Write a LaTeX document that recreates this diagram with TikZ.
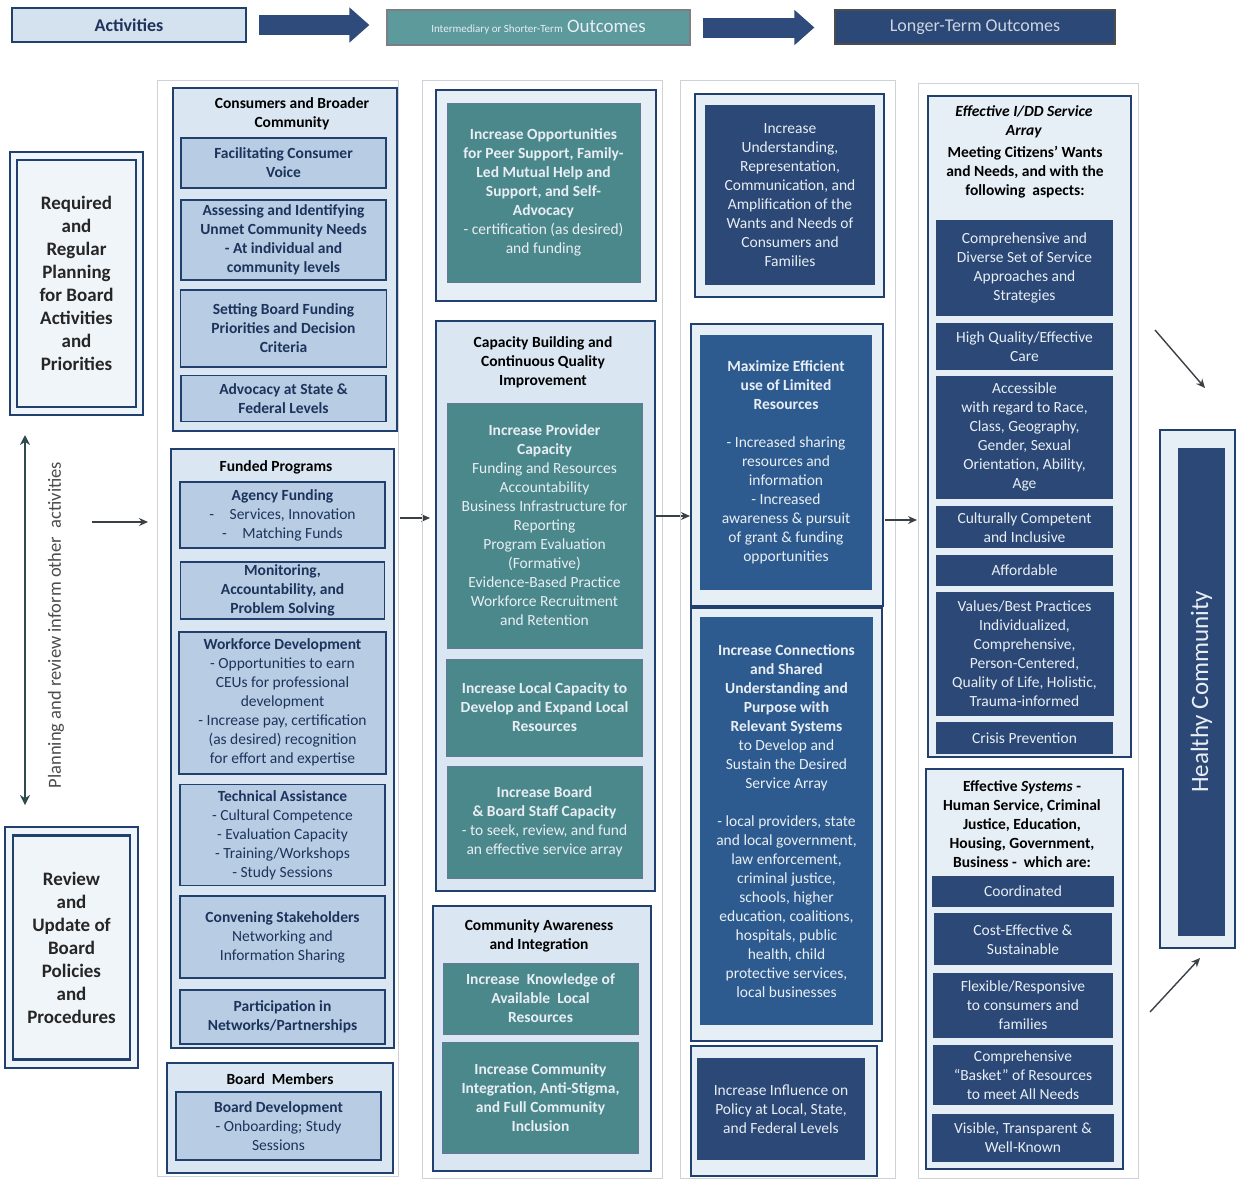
\documentclass[tikz,border=0pt]{standalone}
\usepackage{fontspec}
\setmainfont{Carlito}
\usetikzlibrary{arrows.meta, positioning}

\definecolor{navy}{HTML}{22406E}
\definecolor{hdrnavy}{HTML}{2E4B7B}
\definecolor{darkbox}{HTML}{2B4876}
\definecolor{midbox}{HTML}{2E5B8F}
\definecolor{tealfill}{HTML}{4B888B}
\definecolor{tealhdr}{HTML}{5C9A9C}
\definecolor{paleblue}{HTML}{DAE6F2}
\definecolor{steel}{HTML}{B8CDE3}
\definecolor{frost}{HTML}{E6EEF6}
\definecolor{framegray}{HTML}{CDD2D8}
\definecolor{arrowgray}{HTML}{3B4045}
\definecolor{slate}{HTML}{2F4A4D}
\definecolor{ink}{HTML}{1D335C}
\definecolor{soft}{HTML}{E8EEF4}

\tikzstyle{colframe} = [draw=framegray, line width=1.2pt, anchor=north west, inner sep=0pt]
\tikzstyle{group} = [draw=navy, fill=paleblue, line width=1.8pt, anchor=north west, inner sep=0pt]
\tikzstyle{holder} = [draw=navy, fill=frost, line width=1.8pt, anchor=north west, inner sep=0pt]
\tikzstyle{grptitle} = [align=center, text=black, font=\fontsize{15.5}{19}\selectfont\bfseries]
\tikzstyle{actbox} = [draw=navy, fill=steel, line width=1.8pt, text=ink, align=center, inner sep=2pt, font=\fontsize{15.5}{19}\selectfont]
\tikzstyle{actbold} = [actbox, font=\fontsize{15.5}{19}\selectfont\bfseries]
\tikzstyle{shortbox} = [draw=navy!70, fill=tealfill, line width=1pt, text=soft, align=center, inner sep=2pt, font=\fontsize{15.5}{19}\selectfont]
\tikzstyle{longbox} = [fill=darkbox, text=soft, align=center, inner sep=2pt, font=\fontsize{15.5}{19}\selectfont]
\tikzstyle{planbox} = [draw=navy, line width=2.4pt, fill=frost!60!white, text=black!85, align=center, inner sep=2pt, font=\fontsize{19}{23}\selectfont\bfseries]
\tikzstyle{flow} = [draw=arrowgray, line width=1.4pt, -{Stealth[length=9pt, width=8pt]}]
\tikzstyle{bigflow} = [draw=hdrnavy, line width=20pt, -{Triangle[length=20pt, width=34pt]}]

\begin{document}
\begin{tikzpicture}[x=1pt, y=-1pt, node distance=9pt]
\useasboundingbox[fill=white] (0,0) rectangle (1238,1179);

% header row
\node[draw=navy, line width=2pt, fill=steel!60!white, text=ink, font=\fontsize{18}{22}\selectfont\bfseries, minimum width=234, minimum height=34] (act) at (129,25) {Activities};
\node[draw=framegray!60!black, line width=1.2pt, fill=tealhdr, text=soft, font=\fontsize{19}{22}\selectfont, minimum width=303, minimum height=35] (short) at (538.5,27.5) {{\fontsize{11}{13}\selectfont Intermediary or Shorter-Term} Outcomes};
\node[draw=black!70, line width=1.2pt, fill=darkbox, text=soft!85!darkbox, font=\fontsize{18}{22}\selectfont, minimum width=280, minimum height=34] (long) at (975,27) {Longer-Term Outcomes};
\draw[bigflow] ([xshift=12pt]act.east) -- ([xshift=-17pt]act.east -| short.west);
\draw[bigflow] ([xshift=12pt]short.east) -- ([xshift=-20pt]short.east -| long.west);

% planning and review
\node[draw=navy, line width=1.4pt, fill=frost!60!white, minimum width=133, minimum height=263] (reqframe) at (76.5,283.5) {};
\node[planbox, minimum width=119, minimum height=247] (req) at (reqframe.center) {Required\\and\\Regular\\Planning\\for Board\\Activities\\and\\Priorities};
\node[draw=navy, line width=1.4pt, fill=frost!60!white, minimum width=133, minimum height=241] (revframe) at (71.5,947.5) {};
\node[planbox, minimum width=117, minimum height=224] (rev) at (revframe.center) {Review\\and\\Update of\\Board\\Policies\\and\\Procedures};
\coordinate (plantop) at (25,435);
\coordinate (planbot) at (25,805);
\draw[draw=slate, line width=2.6pt, {Stealth[length=10pt, width=10pt]}-{Stealth[length=10pt, width=10pt]}] (plantop) -- (planbot);
\node[rotate=90, text=black!70, font=\fontsize{18.5}{22}\selectfont] (inform) at (56,625) {Planning and review inform other\ \ activities};
\coordinate (feed) at (92,522);
\coordinate (feedin) at (148,522);
\draw[flow] (feed) -- (feedin);

% activities
\node[colframe, minimum width=241, minimum height=1096] (col1) at (157,80) {};
\node[group, minimum width=224, minimum height=343] (consgrp) at (172,87) {};
\node[grptitle] (cons) at (292,114) {Consumers and Broader\\Community};
\node[actbold, minimum width=205, minimum height=50] (voice) at (283.5,163) {Facilitating Consumer\\Voice};
\node[actbold, minimum width=205, minimum height=80, below=10pt of voice] (needs) {Assessing and Identifying\\Unmet Community Needs\\- At individual and\\community levels};
\node[actbold, minimum width=206, minimum height=77, below=8pt of needs] (prior) {Setting Board Funding\\Priorities and Decision\\Criteria};
\node[actbold, minimum width=205, minimum height=46, below=7pt of prior] (advoc) {Advocacy at State \&\\Federal Levels};

\node[group, minimum width=223, minimum height=599] (fundgrp) at (170,448) {};
\node[grptitle] (fund) at (276,467) {Funded Programs};
\node[actbox, minimum width=205, minimum height=66] (agency) at (282.5,515) {\textbf{Agency Funding}\\-\quad Services, Innovation\\-\quad Matching Funds};
\node[actbold, minimum width=204, minimum height=57, below=12pt of agency] (monit) {Monitoring,\\Accountability, and\\Problem Solving};
\node[actbox, minimum width=207, minimum height=142, below=11pt of monit] (work) {\textbf{Workforce Development}\\- Opportunities to earn\\CEUs for professional\\development\\- Increase pay, certification\\(as desired) recognition\\for effort and expertise};
\node[actbox, minimum width=205, minimum height=101, below=9pt of work] (tech) {\textbf{Technical Assistance}\\- Cultural Competence\\- Evaluation Capacity\\- Training/Workshops\\- Study Sessions};
\node[actbox, minimum width=205, minimum height=82, below=9pt of tech] (conv) {\textbf{Convening Stakeholders}\\Networking and\\Information Sharing};
\node[actbold, minimum width=205, minimum height=54, below=10pt of conv] (partn) {Participation in\\Networks/Partnerships};

\node[group, minimum width=226, minimum height=110] (boardgrp) at (166,1062) {};
\node[grptitle] (board) at (280,1079) {Board\ \ Members};
\node[actbox, minimum width=205, minimum height=68] (bdev) at (278.5,1126) {\textbf{Board Development}\\- Onboarding; Study\\Sessions};

\coordinate (out1) at (400,518);
\coordinate (in2) at (430,518);
\draw[flow] (out1) -- (in2);

% intermediary or shorter-term outcomes
\node[colframe, minimum width=240, minimum height=1098] (col2) at (422,80) {};
\node[holder, minimum width=220, minimum height=211] (peergrp) at (435,89) {};
\node[shortbox, minimum width=193, minimum height=179] (peer) at (543.5,192.5) {\textbf{Increase Opportunities}\\\textbf{for Peer Support, Family-}\\\textbf{Led Mutual Help and}\\\textbf{Support, and Self-}\\\textbf{Advocacy}\\- certification (as desired)\\and funding};

\node[group, minimum width=219, minimum height=570] (capgrp) at (435,320) {};
\node[grptitle] (capt) at (543,362) {Capacity Building and\\Continuous Quality\\Improvement};
\node[shortbox, minimum width=195, minimum height=245] (prov) at (544.5,525.5) {\textbf{Increase Provider}\\\textbf{Capacity}\\Funding and Resources\\Accountability\\Business Infrastructure for\\Reporting\\Program Evaluation\\(Formative)\\Evidence-Based Practice\\Workforce Recruitment\\and Retention};
\node[shortbox, minimum width=196, minimum height=97, below=10pt of prov] (local) {\textbf{Increase Local Capacity to}\\\textbf{Develop and Expand Local}\\\textbf{Resources}};
\node[shortbox, minimum width=195, minimum height=112, below=9pt of local] (staff) {\textbf{Increase Board}\\\textbf{\& Board Staff Capacity}\\- to seek, review, and fund\\an effective service array};

\node[group, minimum width=218, minimum height=265] (awgrp) at (432,905) {};
\node[grptitle] (awt) at (539,935.5) {Community Awareness\\and Integration};
\node[shortbox, minimum width=195, minimum height=71] (know) at (540.5,998.5) {\textbf{Increase\ \ Knowledge of}\\\textbf{Available\ \ Local}\\\textbf{Resources}};
\node[shortbox, minimum width=196, minimum height=111, below=7pt of know] (integ) {\textbf{Increase Community}\\\textbf{Integration, Anti-Stigma,}\\\textbf{and Full Community}\\\textbf{Inclusion}};

\coordinate (out2) at (655,516);
\coordinate (in3) at (690,516);
\draw[flow] (out2) -- (in3);

% longer-term outcomes, first tier
\node[colframe, minimum width=215, minimum height=1098] (col3) at (680,80) {};
\node[holder, minimum width=189, minimum height=203] (undgrp) at (694,93) {};
\node[longbox, minimum width=170, minimum height=180] (under) at (790,195) {Increase\\Understanding,\\Representation,\\Communication, and\\Amplification of the\\Wants and Needs of\\Consumers and\\Families};
\node[holder, minimum width=192, minimum height=282] (maxgrp) at (690,323) {};
\node[longbox, fill=midbox, minimum width=172, minimum height=255] (maxim) at (786,462.5) {\textbf{Maximize Efficient}\\\textbf{use of Limited}\\\textbf{Resources}\\[19pt]- Increased sharing\\resources and\\information\\- Increased\\awareness \& pursuit\\of grant \& funding\\opportunities};
\node[holder, minimum width=191, minimum height=433] (linkgrp) at (690,607) {};
\node[longbox, fill=midbox, minimum width=173, minimum height=408] (links) at (786.5,821) {\textbf{Increase Connections}\\\textbf{and Shared}\\\textbf{Understanding and}\\\textbf{Purpose with}\\\textbf{Relevant Systems}\\to Develop and\\Sustain the Desired\\Service Array\\[19pt]- local providers, state\\and local government,\\law enforcement,\\criminal justice,\\schools, higher\\education, coalitions,\\hospitals, public\\health, child\\protective services,\\local businesses};
\node[holder, minimum width=186, minimum height=130] (polgrp) at (690,1045) {};
\node[longbox, minimum width=168, minimum height=102] (policy) at (781,1109) {Increase Influence on\\Policy at Local, State,\\and Federal Levels};

\coordinate (out3) at (885,520);
\coordinate (in4) at (917,520);
\draw[flow] (out3) -- (in4);

% longer-term outcomes, second tier
\node[colframe, minimum width=220, minimum height=1095] (col4) at (918,83) {};
\node[holder, minimum width=203, minimum height=661] (arraygrp) at (927,95) {};
\node[grptitle] (arrayt) at (1024,121.5) {\textit{Effective I/DD Service}\\\textit{Array}};
\node[grptitle] (meet) at (1025,172.5) {Meeting Citizens’ Wants\\and Needs, and with the\\following\ \ aspects:};
\node[longbox, minimum width=177, minimum height=96] (divers) at (1024.5,268) {Comprehensive and\\Diverse Set of Service\\Approaches and\\Strategies};
\node[longbox, minimum width=177, minimum height=47, below=7pt of divers] (quality) {High Quality/Effective\\Care};
\node[longbox, minimum width=177, minimum height=123, below=5pt of quality] (access) {Accessible\\with regard to Race,\\Class, Geography,\\Gender, Sexual\\Orientation, Ability,\\Age};
\node[longbox, minimum width=177, minimum height=42, below=7pt of access] (cultur) {Culturally Competent\\and Inclusive};
\node[longbox, minimum width=177, minimum height=31, below=6pt of cultur] (afford) {Affordable};
\node[longbox, minimum width=178, minimum height=124, below=6pt of afford] (values) {Values/Best Practices\\Individualized,\\Comprehensive,\\Person-Centered,\\Quality of Life, Holistic,\\Trauma-informed};
\node[longbox, minimum width=177, minimum height=32, below=6pt of values] (crisis) {Crisis Prevention};

\node[holder, minimum width=197, minimum height=400] (sysgrp) at (925,768) {};
\node[grptitle] (syst) at (1022,824) {Effective \textit{Systems} -\\Human Service, Criminal\\Justice, Education,\\Housing, Government,\\Business -\ \ which are:};
\node[longbox, minimum width=182, minimum height=31] (coord) at (1023,891.5) {Coordinated};
\node[longbox, minimum width=178, minimum height=52, below=6pt of coord] (cost) {Cost-Effective \&\\Sustainable};
\node[longbox, minimum width=180, minimum height=65, below=7pt of cost] (flex) {Flexible/Responsive\\to consumers and\\families};
\node[longbox, minimum width=180, minimum height=60, below=7pt of flex] (basket) {Comprehensive\\“Basket” of Resources\\to meet All Needs};
\node[longbox, minimum width=182, minimum height=48, below=8pt of basket] (visible) {Visible, Transparent \&\\Well-Known};

% healthy community
\node[draw=navy, line width=1.8pt, fill=frost, minimum width=75, minimum height=518] (healthframe) at (1197.5,689) {};
\node[rotate=90, fill=darkbox, text=soft, font=\fontsize{25}{28}\selectfont, minimum width=488, minimum height=47] (health) at (1201.5,692) {Healthy Community};
\coordinate (d1s) at (1155,330);
\coordinate (d1e) at (1205,388);
\coordinate (d2s) at (1150,1012);
\coordinate (d2e) at (1200,958);
\draw[flow] (d1s) -- (d1e);
\draw[flow] (d2s) -- (d2e);
\end{tikzpicture}
\end{document}
